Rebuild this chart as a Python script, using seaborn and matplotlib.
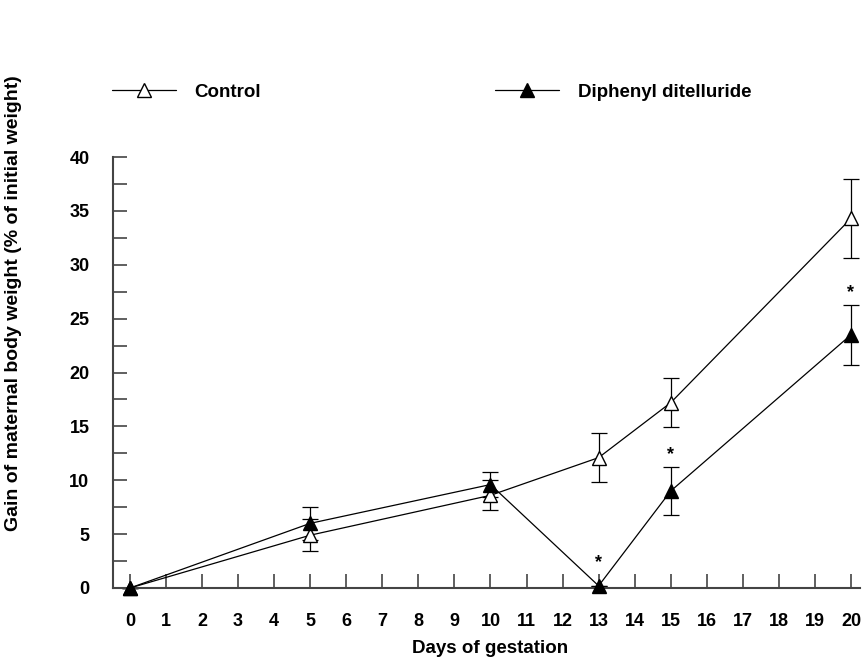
import matplotlib
matplotlib.use('Agg')
import matplotlib.pyplot as plt
from matplotlib.lines import Line2D
from matplotlib.ticker import MultipleLocator
import seaborn as sns
import pandas as pd

# ---- data ----
days = [0, 5, 10, 13, 15, 20]
control_mean = [0, 4.9, 8.6, 12.1, 17.2, 34.3]
control_err = [0, 1.5, 1.4, 2.3, 2.3, 3.7]
dpdt_mean = [0, 6.0, 9.6, 0.2, 9.0, 23.5]
dpdt_err = [0, 1.5, 1.2, 0, 2.2, 2.8]
signif_days = [13, 15, 20]
series_names = ['Control', 'Diphenyl ditelluride']
x_ticks = list(range(0, 21))
y_ticks = list(range(0, 41, 5))
x_label = 'Days of gestation'
y_label = 'Gain of maternal body weight (% of initial weight)'

df = pd.DataFrame({
    'day': days + days,
    'gain': control_mean + dpdt_mean,
    'err': control_err + dpdt_err,
    'group': [series_names[0]] * len(days) + [series_names[1]] * len(days),
})

sns.set_theme(style='white')
plt.rcParams['font.family'] = ['Liberation Sans', 'DejaVu Sans']
plt.rcParams['font.weight'] = 'bold'
plt.rcParams['text.color'] = 'black'
plt.rcParams['axes.labelcolor'] = 'black'
plt.rcParams['xtick.color'] = 'black'
plt.rcParams['ytick.color'] = 'black'

W, H = 868, 666
fig = plt.figure(figsize=(W / 100, H / 100), dpi=100)
ax = fig.add_axes([113 / W, 78 / H, 747 / W, 431 / H])

face = {series_names[0]: 'white', series_names[1]: 'black'}
for name in series_names:
    sub = df[df['group'] == name]
    ax.errorbar(sub['day'], sub['gain'], yerr=sub['err'], fmt='none',
                ecolor='black', elinewidth=0.9, capsize=6, capthick=0.9,
                zorder=2, clip_on=False)
    sns.lineplot(data=sub, x='day', y='gain', ax=ax, color='black',
                 marker='^', markersize=10, markerfacecolor=face[name],
                 markeredgecolor='black', markeredgewidth=1.0,
                 linewidth=0.9, errorbar=None, zorder=3, clip_on=False,
                 legend=False)

# significance asterisks
sub = df[df['group'] == series_names[1]]
for d in signif_days:
    row = sub[sub['day'] == d].iloc[0]
    off = 9 if row['err'] > 0 else 17
    ax.annotate('*', xy=(d, row['gain'] + row['err']), xytext=(0, off),
                textcoords='offset points', ha='center', va='center',
                fontsize=13, fontweight='bold', color='black')

ax.set_xlim(-0.47, 20.25)
ax.set_ylim(0, 40)
ax.set_xticks(x_ticks)
ax.set_yticks(y_ticks)
ax.yaxis.set_minor_locator(MultipleLocator(2.5))
ax.tick_params(axis='both', which='both', direction='in', length=10,
               width=1.2, color='#444444', labelsize=13,
               bottom=True, left=True, labelcolor='black')
ax.tick_params(axis='x', pad=18)
ax.tick_params(axis='y', pad=17)
for lab in ax.get_xticklabels() + ax.get_yticklabels():
    lab.set_fontweight('bold')

for s in ['top', 'right']:
    ax.spines[s].set_visible(False)
for s in ['left', 'bottom']:
    ax.spines[s].set_color('#444444')
    ax.spines[s].set_linewidth(1.5)

ax.set_xlabel(x_label, fontsize=13.5, fontweight='bold')
ax.set_ylabel(y_label, fontsize=14, fontweight='bold')
ax.xaxis.set_label_coords((490 - 113) / 747, (588 - 640) / 431)
ax.yaxis.set_label_coords((22 - 113) / 747, (588 - 303) / 431)

# legends
handles = [
    Line2D([], [], color='black', linewidth=0.9, marker='^', markersize=10,
           markerfacecolor='white', markeredgecolor='black'),
    Line2D([], [], color='black', linewidth=0.9, marker='^', markersize=10,
           markerfacecolor='black', markeredgecolor='black'),
]
for h, name, x0 in zip(handles, series_names, [112, 495]):
    fig.legend([h], [name], loc='center left',
               bbox_to_anchor=(x0 / W, (H - 92) / H), frameon=False,
               handlelength=3.4, handletextpad=1.0, borderpad=0,
               borderaxespad=0, prop={'weight': 'bold', 'size': 13.5})

fig.savefig('out.png', dpi=100)
